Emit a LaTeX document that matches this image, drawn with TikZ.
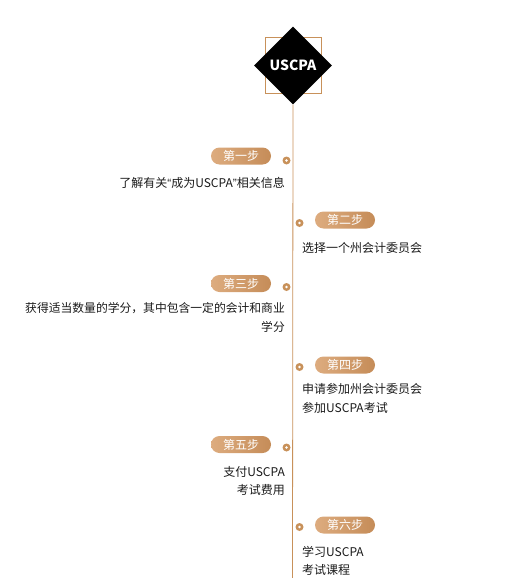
\documentclass[tikz,border=0pt]{standalone}
\usepackage{fontspec}
\setmainfont{Noto Sans CJK SC}
\newfontfamily\qfont{Liberation Sans}
\usetikzlibrary{shapes.geometric}
\definecolor{tan}{HTML}{C8915A}
\definecolor{tanL}{HTML}{DDAC7F}
\definecolor{tanR}{HTML}{C58C58}
\definecolor{ink}{HTML}{1A1A1A}
\tikzset{
  pill/.style={rounded corners=8.5pt, minimum width=60pt, minimum height=17pt, inner sep=0pt,
    left color=tanL, right color=tanR, text=white, font=\fontsize{12}{14}\selectfont},
  dotmark/.style={circle, fill=tan, minimum size=8pt, inner sep=0pt,
    path picture={\fill[white] (path picture bounding box.center) circle (1.4pt);}},
  ltext/.style={anchor=north east, inner sep=0pt, align=right, text=ink, font=\fontsize{12}{18.5}\selectfont},
  rtext/.style={anchor=north west, inner sep=0pt, align=left, text=ink, font=\fontsize{12}{18.5}\selectfont},
}
\begin{document}
\begin{tikzpicture}[x=1pt,y=-1pt]
\useasboundingbox (0,0) rectangle (511,578);
\node[draw=tan, line width=0.6pt, minimum size=56pt, inner sep=0pt] (sq) at (293,65) {};
\node[diamond, fill=black, minimum width=78pt, minimum height=78pt, inner sep=0pt, aspect=1,
  text=white, font=\fontsize{14}{16}\selectfont\bfseries] (top) at (293,65.5) {USCPA};
\coordinate (end) at (292.5,578);
\draw[tan, line width=0.8pt] (top.south) -- (end);
% steps
\node[pill] (s1) at (241,156) {第一步};
\node[dotmark] (d1) at (286.5,160.5) {};
\node[ltext] (t1) at (285,177) {了解有关{\qfont“}成为USCPA{\qfont”}相关信息};

\node[pill] (s2) at (345,220) {第二步};
\node[dotmark] (d2) at (299.5,223) {};
\node[rtext] (t2) at (302,242) {选择一个州会计委员会};

\node[pill] (s3) at (241,283.5) {第三步};
\node[dotmark] (d3) at (286.5,287) {};
\node[ltext, font=\fontsize{11.8}{18.5}\selectfont] (t3) at (285,302.5) {获得适当数量的学分，其中包含一定的会计和商业\\学分};

\node[pill] (s4) at (345,365) {第四步};
\node[dotmark] (d4) at (299.5,367) {};
\node[rtext] (t4) at (302,383.5) {申请参加州会计委员会\\参加USCPA考试};

\node[pill] (s5) at (241,444.5) {第五步};
\node[dotmark] (d5) at (286.5,447.5) {};
\node[ltext] (t5) at (285,466) {支付USCPA\\考试费用};

\node[pill] (s6) at (345,525) {第六步};
\node[dotmark] (d6) at (299.5,527) {};
\node[rtext] (t6) at (302,546) {学习USCPA\\考试课程};
\end{tikzpicture}
\end{document}
